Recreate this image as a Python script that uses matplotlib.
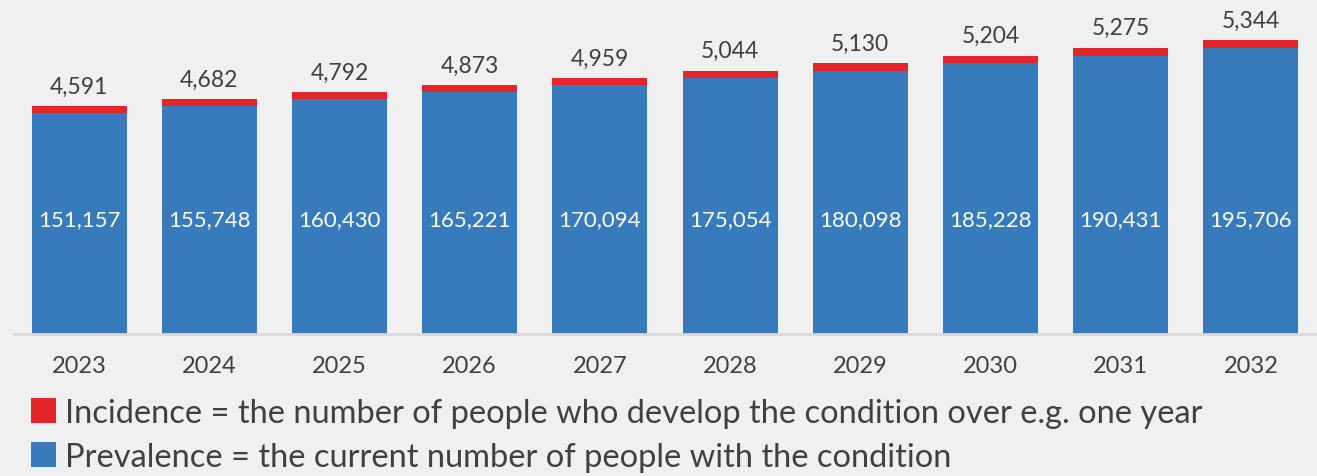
import matplotlib
matplotlib.use("Agg")
import matplotlib.pyplot as plt
import matplotlib.transforms as mtransforms

years = ["2023", "2024", "2025", "2026", "2027", "2028", "2029", "2030", "2031", "2032"]
prevalence = [151157, 155748, 160430, 165221, 170094, 175054, 180098, 185228, 190431, 195706]
incidence = [4591, 4682, 4792, 4873, 4959, 5044, 5130, 5204, 5275, 5344]
legend_labels = ["Incidence = the number of people who develop the condition over e.g. one year",
                 "Prevalence = the current number of people with the condition"]

BG = "#f0f0f0"
BLUE = "#377bbd"
RED = "#e3262a"
TXT = "#404040"
FONT = "Lato"

plt.rcParams['font.family'] = [FONT, 'DejaVu Sans']

W, H = 1317, 477
fig = plt.figure(figsize=(W / 100, H / 100), dpi=100, facecolor=BG)
ax = fig.add_axes([14 / W, 142 / H, (1316 - 14) / W, (335 - 28) / H])
ax.set_facecolor(BG)

x = list(range(len(years)))
b1 = ax.bar(x, prevalence, width=0.73, color=BLUE, label=legend_labels[1], zorder=2)
b2 = ax.bar(x, incidence, width=0.73, bottom=prevalence, color=RED, label=legend_labels[0], zorder=2)

ax.set_xlim(-0.5, len(years) - 0.5)
ax.set_ylim(0, 210000)

for s in ["top", "right", "left"]:
    ax.spines[s].set_visible(False)
ax.spines["bottom"].set_color("#d9d9d9")
ax.spines["bottom"].set_linewidth(2)
ax.set_yticks([])
ax.set_xticks(x)
ax.set_xticklabels(years, fontsize=17, color=TXT)
ax.tick_params(axis="x", length=0, pad=15)

trans = mtransforms.blended_transform_factory(ax.transData, ax.transAxes)
for i in x:
    ax.annotate(f"{incidence[i]:,}", (i, prevalence[i] + incidence[i]),
                xytext=(0, 7), textcoords="offset points", ha="center", va="bottom",
                fontsize=16.5, color=TXT)
    ax.text(i, 115 / 307, f"{prevalence[i]:,}", transform=trans, ha="center", va="center",
            fontsize=16, color="white", zorder=3)

fig.legend(handles=[b2, b1], labels=legend_labels, loc="upper left",
           bbox_to_anchor=(31 / W, 1 - 399 / H), frameon=False, fontsize=23.5,
           handlelength=0.78, handleheight=0.78, handletextpad=0.25,
           labelspacing=0.42, borderpad=0, borderaxespad=0, labelcolor=TXT)

fig.savefig("out.png", dpi=100, facecolor=BG)
